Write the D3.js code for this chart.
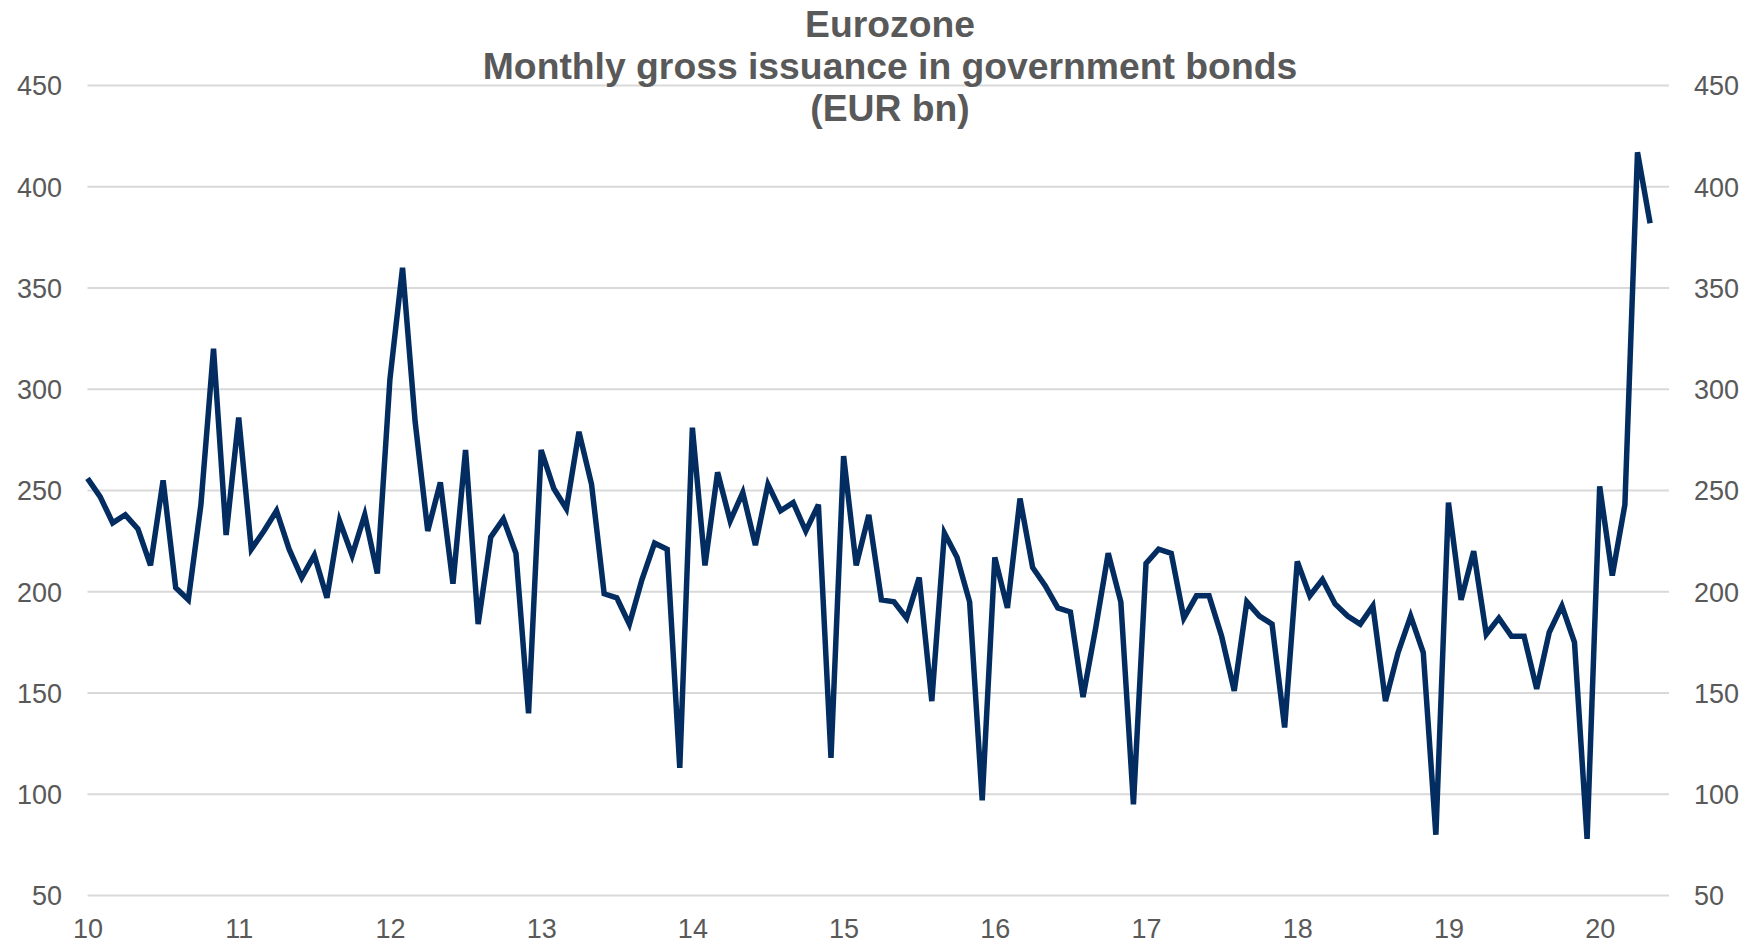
<!DOCTYPE html>
<html><head><meta charset="utf-8">
<script src="https://cdn.jsdelivr.net/npm/d3@7"></script>
<style>html,body{margin:0;padding:0;background:#fff;}svg{display:block;}</style>
</head><body>
<svg id="chart" width="1753" height="943"></svg>
<script>
const titleLines = ["Eurozone", "Monthly gross issuance in government bonds", "(EUR bn)"];
const startYear = 2010;
const startMonth = 0;
const yearTickLabels = ["10","11","12","13","14","15","16","17","18","19","20"];
const yTicks = [50,100,150,200,250,300,350,400,450];
const issuance = [
  256,247,234,238,231,213,255,202,196,243,320,228,
  286,221,230,240,221,207,218,197,235,218,238,209,
  305,360,284,230,254,204,270,184,227,236,219,140,
  270,251,241,279,253,199,197,184,206,224,221,113,
  281,213,259,235,249,223,253,240,244,230,243,118,
  267,213,238,196,195,187,207,146,229,217,195,97,
  217,192,246,212,203,192,190,148,182,219,195,95,
  214,221,219,187,198,198,178,151,195,188,184,133,
  215,198,206,194,188,184,193,146,170,188,170,80,
  244,196,220,179,187,178,178,152,180,193,175,78,
  252,208,243,417,382
];

const W = 1753, H = 943;
const svg = d3.select("#chart");
const x0 = 87.5, x1 = 1669, yTop = 85.5, yBot = 895.5;

const x = d3.scaleLinear().domain([0, 125.5]).range([x0, x1]);
const y = d3.scaleLinear().domain([50, 450]).range([yBot, yTop]);

// gridlines
svg.append("g").selectAll("line").data(yTicks).join("line")
  .attr("x1", x0).attr("x2", x1)
  .attr("y1", d => y(d)).attr("y2", d => y(d))
  .attr("stroke", "#d9d9d9").attr("stroke-width", 2);

// left axis
const leftAxis = d3.axisLeft(y).tickValues(yTicks).tickSize(0).tickPadding(0);
const gl = svg.append("g").attr("transform", `translate(62,0)`).call(leftAxis);
gl.select(".domain").remove();
gl.selectAll("text").attr("font-family", "Liberation Sans, Arial, sans-serif")
  .attr("font-size", 27).attr("fill", "#595959").attr("dy", "0.35em");

// right axis
const rightAxis = d3.axisRight(y).tickValues(yTicks).tickSize(0).tickPadding(0);
const gr = svg.append("g").attr("transform", `translate(1694,0)`).call(rightAxis);
gr.select(".domain").remove();
gr.selectAll("text").attr("font-family", "Liberation Sans, Arial, sans-serif")
  .attr("font-size", 27).attr("fill", "#595959").attr("dy", "0.35em");

// bottom axis
const xTickVals = yearTickLabels.map((_, i) => i * 12);
const bottomAxis = d3.axisBottom(x).tickValues(xTickVals)
  .tickFormat((d, i) => yearTickLabels[i]).tickSize(0).tickPadding(0);
const gb = svg.append("g").attr("transform", `translate(0,919)`).call(bottomAxis);
gb.select(".domain").remove();
gb.selectAll("text").attr("font-family", "Liberation Sans, Arial, sans-serif")
  .attr("font-size", 27).attr("fill", "#595959").attr("dy", "0.71em");

// line
const line = d3.line().x((d, i) => x(i)).y(d => y(d));
svg.append("path").datum(issuance)
  .attr("d", line).attr("fill", "none")
  .attr("stroke", "#032d60").attr("stroke-width", 5.5)
  .attr("stroke-linejoin", "miter").attr("stroke-miterlimit", 4);

// title
const tt = svg.append("text").attr("text-anchor", "middle")
  .attr("font-family", "Liberation Sans, Arial, sans-serif")
  .attr("font-weight", "bold").attr("font-size", 37.3).attr("fill", "#595959");
titleLines.forEach((t, i) => {
  tt.append("tspan").attr("x", 890).attr("y", 37 + i * 42).text(t);
});
</script>
</body></html>
